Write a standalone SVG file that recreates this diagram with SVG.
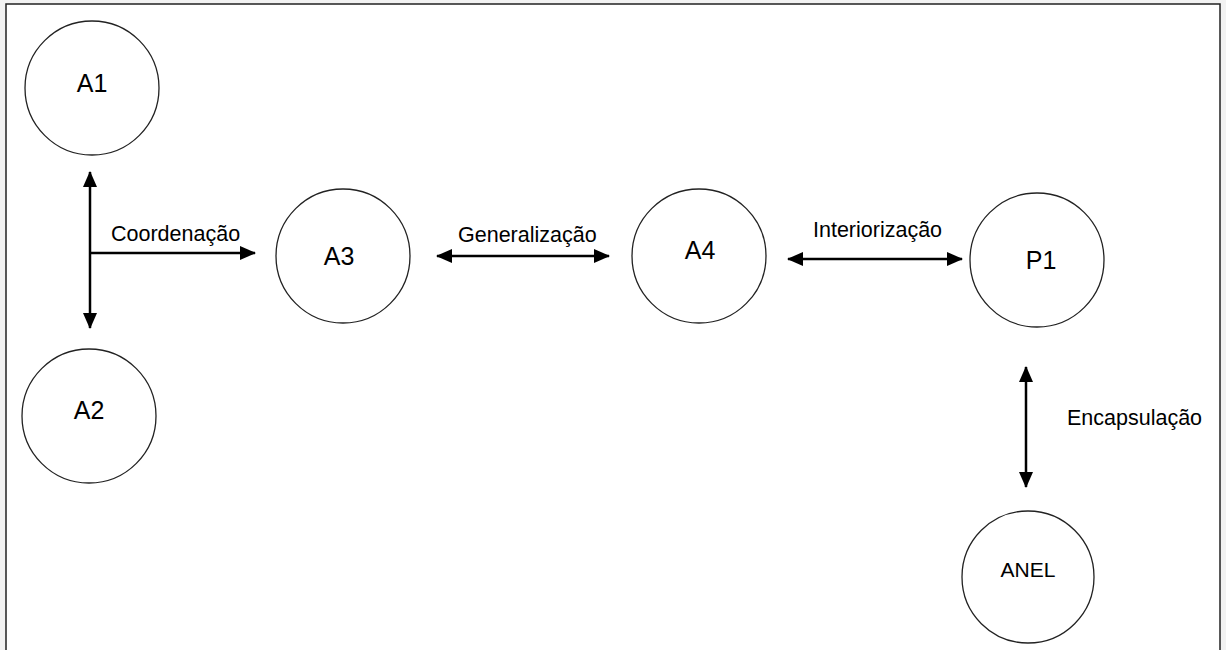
<svg xmlns="http://www.w3.org/2000/svg" width="1226" height="650" viewBox="0 0 1226 650">
<defs>
<style>
.node{fill:#fff;stroke:#222;stroke-width:1.3}
.nt{font-family:"Liberation Sans",Arial,sans-serif;font-size:25px;fill:#000;text-anchor:middle}
.nts{font-family:"Liberation Sans",Arial,sans-serif;font-size:21px;fill:#000;text-anchor:middle}
.lbl{font-family:"Liberation Sans",Arial,sans-serif;font-size:21.5px;fill:#000}
.con{stroke:#000;stroke-width:2.5;fill:none}
</style>
<marker id="ah" markerUnits="userSpaceOnUse" markerWidth="16" markerHeight="16" viewBox="0 0 16 16" refX="15" refY="8" orient="auto-start-reverse">
<path d="M0,1 L16,8 L0,15 Z" fill="#000"/>
</marker>
</defs>
<rect x="0" y="0" width="1226" height="650" fill="#f2f2f2"/>
<rect x="6" y="4" width="1214" height="660" fill="#fff" stroke="#222" stroke-width="1.5"/>
<g id="connectors">
<line class="con" x1="90" y1="172" x2="90" y2="328" marker-start="url(#ah)" marker-end="url(#ah)"/>
<line class="con" x1="90" y1="253" x2="255" y2="253" marker-end="url(#ah)"/>
<line class="con" x1="437" y1="256" x2="609" y2="256" marker-start="url(#ah)" marker-end="url(#ah)"/>
<line class="con" x1="788" y1="259" x2="962" y2="259" marker-start="url(#ah)" marker-end="url(#ah)"/>
<line class="con" x1="1026" y1="367" x2="1026" y2="487" marker-start="url(#ah)" marker-end="url(#ah)"/>
<text class="lbl" x="111" y="241">Coordenação</text>
<text class="lbl" x="458" y="242">Generalização</text>
<text class="lbl" x="813" y="237">Interiorização</text>
<text class="lbl" x="1067" y="425">Encapsulação</text>
</g>
<g id="A1"><circle class="node" cx="92" cy="88" r="67"/><text class="nt" x="92" y="92">A1</text></g>
<g id="A2"><circle class="node" cx="89" cy="416" r="67"/><text class="nt" x="89" y="419">A2</text></g>
<g id="A3"><circle class="node" cx="343" cy="256" r="67"/><text class="nt" x="339" y="265">A3</text></g>
<g id="A4"><circle class="node" cx="699" cy="256" r="67"/><text class="nt" x="700" y="259">A4</text></g>
<g id="P1"><circle class="node" cx="1037" cy="260" r="67"/><text class="nt" x="1041" y="269">P1</text></g>
<g id="ANEL"><circle class="node" cx="1028" cy="577" r="66"/><text class="nts" x="1028" y="577">ANEL</text></g>
</svg>
